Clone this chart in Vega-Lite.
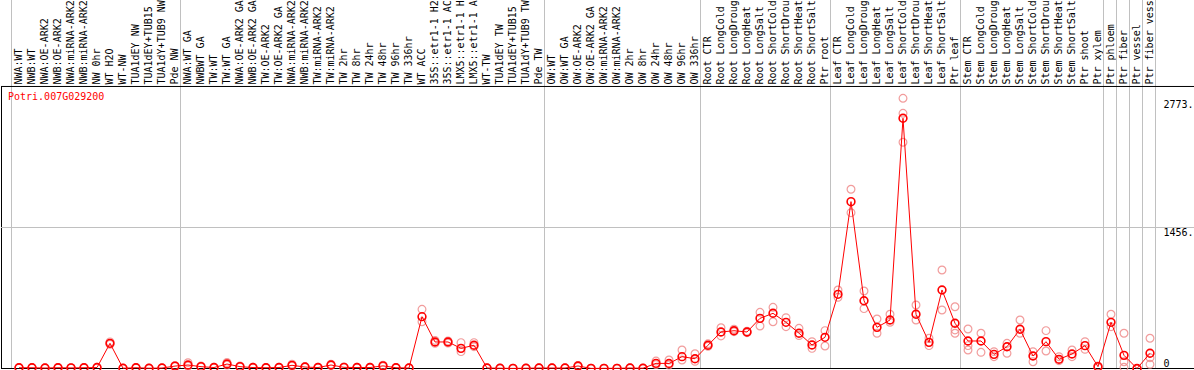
{
  "$schema": "https://vega.github.io/schema/vega-lite/v6.json",
  "autosize": "none",
  "width": 1193,
  "height": 282.5,
  "padding": {"left": 1, "top": 86, "right": 0, "bottom": 1.5},
  "background": "white",
  "config": {"view": {"stroke": null}},
  "datasets": {
    "cols": [
      {"i":0,"label":"NWA:WT","mean":8,"r1":10,"r2":6,"sep":true},
      {"i":1,"label":"NWB:WT","mean":8,"r1":9,"r2":7},
      {"i":2,"label":"NWA:OE-ARK2","mean":5,"r1":7,"r2":4},
      {"i":3,"label":"NWB:OE-ARK2","mean":8,"r1":10,"r2":6},
      {"i":4,"label":"NWA:miRNA-ARK2","mean":6,"r1":8,"r2":5},
      {"i":5,"label":"NWB:miRNA-ARK2","mean":8,"r1":10,"r2":6},
      {"i":6,"label":"NW 0hr","mean":10,"r1":12,"r2":8},
      {"i":7,"label":"WT H2O","mean":260,"r1":275,"r2":250},
      {"i":8,"label":"WT-NW","mean":3,"r1":4,"r2":2},
      {"i":9,"label":"TUA1dEY NW","mean":8,"r1":10,"r2":6},
      {"i":10,"label":"TUA1dEY+TUB15 NW","mean":3,"r1":4,"r2":2},
      {"i":11,"label":"TUA1dY+TUB9 NW","mean":5,"r1":6,"r2":4},
      {"i":12,"label":"Pde NW","mean":25,"r1":30,"r2":20},
      {"i":13,"label":"NWA:WT GA","mean":36,"r1":60,"r2":25,"sep":true},
      {"i":14,"label":"NWBWT GA","mean":19,"r1":25,"r2":15},
      {"i":15,"label":"TW:WT","mean":10,"r1":14,"r2":8},
      {"i":16,"label":"TW:WT GA","mean":46,"r1":62,"r2":35},
      {"i":17,"label":"NWA:OE-ARK2 GA","mean":19,"r1":25,"r2":14},
      {"i":18,"label":"NWB:OE-ARK2 GA","mean":10,"r1":14,"r2":8},
      {"i":19,"label":"TW:OE-ARK2","mean":8,"r1":11,"r2":6},
      {"i":20,"label":"TW:OE-ARK2 GA","mean":10,"r1":14,"r2":8},
      {"i":21,"label":"NWA:miRNA-ARK2 GA","mean":33,"r1":45,"r2":25},
      {"i":22,"label":"NWB:miRNA-ARK2 GA","mean":15,"r1":20,"r2":12},
      {"i":23,"label":"TW:miRNA-ARK2","mean":10,"r1":13,"r2":8},
      {"i":24,"label":"TW:miRNA-ARK2 ","mean":36,"r1":45,"r2":30},
      {"i":25,"label":"TW 2hr","mean":12,"r1":15,"r2":10},
      {"i":26,"label":"TW 8hr","mean":10,"r1":13,"r2":8},
      {"i":27,"label":"TW 24hr","mean":10,"r1":13,"r2":8},
      {"i":28,"label":"TW 48hr","mean":27,"r1":35,"r2":20},
      {"i":29,"label":"TW 96hr","mean":8,"r1":10,"r2":6},
      {"i":30,"label":"TW 336hr","mean":5,"r1":7,"r2":4},
      {"i":31,"label":"WT ACC","mean":535,"r1":611,"r2":483},
      {"i":32,"label":"35S::etr1-1 H2O","mean":274,"r1":290,"r2":260},
      {"i":33,"label":"35S::etr1-1 ACC","mean":274,"r1":285,"r2":262},
      {"i":34,"label":"LMX5::etr1-1 H2O","mean":208,"r1":267,"r2":174},
      {"i":35,"label":"LMX5::etr1-1 ACC","mean":240,"r1":267,"r2":225},
      {"i":36,"label":"WT-TW","mean":5,"r1":7,"r2":4},
      {"i":37,"label":"TUA1dEY TW","mean":3,"r1":4,"r2":2},
      {"i":38,"label":"TUA1dEY+TUB15 TW","mean":1,"r1":2,"r2":0},
      {"i":39,"label":"TUA1dY+TUB9 TW","mean":3,"r1":4,"r2":2},
      {"i":40,"label":"Pde TW","mean":5,"r1":7,"r2":4},
      {"i":41,"label":"OW:WT","mean":5,"r1":7,"r2":4,"sep":true},
      {"i":42,"label":"OW:WT GA","mean":5,"r1":7,"r2":4},
      {"i":43,"label":"OW:OE-ARK2","mean":26,"r1":32,"r2":20},
      {"i":44,"label":"OW:OE-ARK2 GA","mean":1,"r1":2,"r2":0},
      {"i":45,"label":"OW:miRNA-ARK2","mean":2,"r1":3,"r2":1},
      {"i":46,"label":"OW:miRNA-ARK2 ","mean":2,"r1":3,"r2":1},
      {"i":47,"label":"OW 2hr","mean":5,"r1":7,"r2":4},
      {"i":48,"label":"OW 8hr","mean":3,"r1":4,"r2":2},
      {"i":49,"label":"OW 24hr","mean":53,"r1":77,"r2":40},
      {"i":50,"label":"OW 48hr","mean":52,"r1":88,"r2":35},
      {"i":51,"label":"OW 96hr","mean":122,"r1":191,"r2":88},
      {"i":52,"label":"OW 336hr","mean":101,"r1":152,"r2":74},
      {"i":53,"label":"Root CTR","mean":240,"r1":255,"r2":230,"sep":true},
      {"i":54,"label":"Root LongCold","mean":377,"r1":421,"r2":336},
      {"i":55,"label":"Root LongDrought","mean":390,"r1":405,"r2":380},
      {"i":56,"label":"Root LongHeat","mean":377,"r1":385,"r2":370},
      {"i":57,"label":"Root LongSalt","mean":518,"r1":580,"r2":439},
      {"i":58,"label":"Root ShortCold","mean":570,"r1":632,"r2":483},
      {"i":59,"label":"Root ShortDrought","mean":477,"r1":525,"r2":432},
      {"i":60,"label":"Root ShortHeat","mean":364,"r1":415,"r2":340},
      {"i":61,"label":"Root ShortSalt","mean":243,"r1":277,"r2":208},
      {"i":62,"label":"Ptr root","mean":322,"r1":391,"r2":232},
      {"i":63,"label":"Leaf CTR","mean":766,"r1":811,"r2":735,"sep":true},
      {"i":64,"label":"Leaf LongCold","mean":1723,"r1":1851,"r2":1609},
      {"i":65,"label":"Leaf LongDrought","mean":700,"r1":800,"r2":618},
      {"i":66,"label":"Leaf LongHeat","mean":425,"r1":511,"r2":364},
      {"i":67,"label":"Leaf LongSalt","mean":501,"r1":560,"r2":477},
      {"i":68,"label":"Leaf ShortCold","mean":2584,"r1":2790,"r2":2635,"r3":2336},
      {"i":69,"label":"Leaf ShortDrought","mean":560,"r1":656,"r2":501},
      {"i":70,"label":"Leaf ShortHeat","mean":270,"r1":312,"r2":236},
      {"i":71,"label":"Leaf ShortSalt","mean":811,"r1":1017,"r2":604},
      {"i":72,"label":"Ptr leaf","mean":467,"r1":638,"r2":364,"r3":398},
      {"i":73,"label":"Stem CTR","mean":284,"r1":408,"r2":236,"r3":191,"sep":true},
      {"i":74,"label":"Stem LongCold","mean":284,"r1":364,"r2":167},
      {"i":75,"label":"Stem LongDrought","mean":146,"r1":174,"r2":122},
      {"i":76,"label":"Stem LongHeat","mean":225,"r1":260,"r2":157},
      {"i":77,"label":"Stem LongSalt","mean":405,"r1":501,"r2":364},
      {"i":78,"label":"Stem ShortCold","mean":129,"r1":174,"r2":70},
      {"i":79,"label":"Stem ShortDrought","mean":277,"r1":391,"r2":181},
      {"i":80,"label":"Stem ShortHeat","mean":95,"r1":122,"r2":81},
      {"i":81,"label":"Stem ShortSalt","mean":150,"r1":191,"r2":122},
      {"i":82,"label":"Ptr shoot","mean":236,"r1":277,"r2":198},
      {"i":83,"label":"Ptr xylem","mean":19,"r1":25,"r2":10},
      {"i":84,"label":"Ptr phloem","mean":477,"r1":560,"r2":432,"sep":true},
      {"i":85,"label":"Ptr fiber","mean":136,"r1":364,"r2":70,"r3":12,"sep":true},
      {"i":86,"label":"Ptr vessel","mean":0,"r1":0,"r2":0,"sep":true},
      {"i":87,"label":"Ptr fiber vessel","mean":157,"r1":312,"r2":112,"r3":43,"sep":true,"last":true}
    ],
    "hlines": [
      {"v": 1456, "kind": "grid"},
      {"v": 0, "kind": "base"},
      {"v": 2912, "kind": "base"}
    ],
    "gene": [
      {"name": "Potri.007G029200"}
    ]
  },
  "resolve": {"axis": {"y": "independent"}},
  "layer": [
    {
      "data": {"name": "cols"},
      "mark": {"type": "rule", "color": "#c0c0c0", "strokeWidth": 1, "clip": false},
      "encoding": {
        "x": {
          "field": "label", "type": "nominal", "sort": null, "bandPosition": -0.0769,
          "scale": {"type": "band", "paddingInner": 0, "paddingOuter": 0, "range": [11.5, 1155.5]},
          "axis": {
            "orient": "top", "title": null, "labelAngle": -90, "labelAlign": "left", "labelBaseline": "middle",
            "labelPadding": 2, "ticks": false, "grid": false, "domain": false,
            "labelFont": "DejaVu Sans Mono", "labelFontSize": 10, "labelColor": "black",
            "labelOverlap": false, "labelLimit": 200, "labelBound": false
          }
        },
        "y": {
          "datum": 0, "type": "quantitative",
          "scale": {"domain": [0, 2917], "nice": false, "zero": false},
          "axis": {"orient": "left", "title": null, "labels": false, "ticks": false, "grid": false, "domain": true, "domainColor": "black", "domainWidth": 1}
        },
        "y2": {"datum": 3810},
        "strokeOpacity": {"condition": {"test": "datum.sep === true", "value": 1}, "value": 0}
      }
    },
    {
      "data": {"name": "cols"},
      "transform": [{"filter": "datum.last === true"}],
      "mark": {"type": "rule", "color": "#c0c0c0", "strokeWidth": 1, "clip": false},
      "encoding": {
        "x": {"field": "label", "type": "nominal", "sort": null, "bandPosition": 0.9231},
        "y": {"datum": 0, "type": "quantitative", "axis": null},
        "y2": {"datum": 3810}
      }
    },
    {
      "data": {"name": "hlines"},
      "mark": {"type": "rule", "strokeWidth": 1},
      "encoding": {
        "y": {
          "field": "v", "type": "quantitative",
          "axis": {
            "orient": "right", "offset": -31, "title": null, "values": [0, 1456, 2773], "format": "d",
            "labelExpr": "datum.value == 0 ? '0' : datum.label + '.'",
            "domain": false, "ticks": false, "grid": false, "labelPadding": 0, "labelAlign": "left",
            "labelBaseline": {"condition": {"test": "datum.value == 0", "value": "bottom"}, "value": "top"},
            "labelFont": "DejaVu Sans Mono", "labelFontSize": 10, "labelColor": "black",
            "labelBound": false, "labelFlush": false, "labelOverlap": false
          }
        },
        "color": {"condition": {"test": "datum.kind == 'base'", "value": "black"}, "value": "#c0c0c0"}
      }
    },
    {
      "data": {"name": "cols"},
      "transform": [
        {"fold": ["r1", "r2", "r3"], "as": ["rep", "rv"]},
        {"filter": "isValid(datum.rv)"}
      ],
      "mark": {"type": "point", "shape": "circle", "filled": false, "color": "#f08c8c", "strokeWidth": 1.2, "size": 60, "opacity": 0.85},
      "encoding": {
        "x": {"field": "label", "type": "nominal", "sort": null},
        "y": {"field": "rv", "type": "quantitative", "axis": null}
      }
    },
    {
      "data": {"name": "cols"},
      "mark": {"type": "line", "color": "#ff0000", "strokeWidth": 1},
      "encoding": {
        "x": {"field": "label", "type": "nominal", "sort": null},
        "y": {"field": "mean", "type": "quantitative", "axis": null},
        "order": {"field": "i", "type": "quantitative"}
      }
    },
    {
      "data": {"name": "cols"},
      "mark": {"type": "point", "shape": "circle", "filled": false, "color": "#ff0000", "strokeWidth": 1.6, "size": 60, "opacity": 1},
      "encoding": {
        "x": {"field": "label", "type": "nominal", "sort": null},
        "y": {"field": "mean", "type": "quantitative", "axis": null}
      }
    },
    {
      "data": {"name": "gene"},
      "mark": {"type": "text", "align": "left", "baseline": "top", "color": "#ff0000", "font": "DejaVu Sans Mono", "fontSize": 10, "dx": -4.5, "dy": 6},
      "encoding": {
        "x": {"datum": "NWA:WT", "type": "nominal", "bandPosition": 0},
        "y": {"datum": 2917, "type": "quantitative", "axis": null},
        "text": {"field": "name"}
      }
    }
  ]
}
